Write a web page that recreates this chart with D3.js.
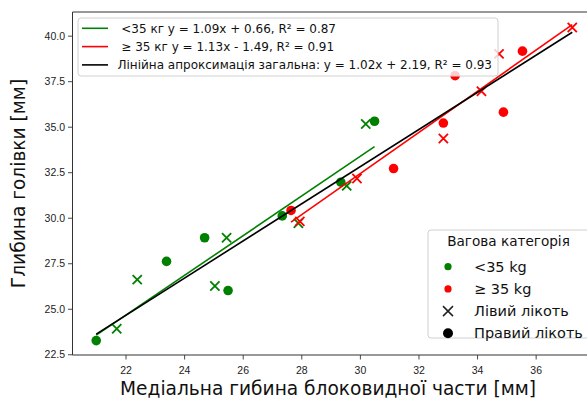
<!DOCTYPE html>
<html>
<head>
<meta charset="utf-8">
<script src="https://cdn.jsdelivr.net/npm/d3@7"></script>
<style>
  body { margin: 0; background: #fff; }
  svg { display: block; font-family: "DejaVu Sans", sans-serif; }
  text { white-space: pre; }
</style>
</head>
<body>
<div id="chart"></div>
<script>
// data
const lightLeftX = [21.7, 22.4, 25.05, 25.45, 27.9, 29.55, 30.2];
const lightLeftY = [23.9, 26.6, 26.25, 28.9, 29.7, 31.75, 35.15];
const lightRightX = [21.0, 23.4, 24.7, 25.5, 27.35, 29.35, 30.5];
const lightRightY = [23.25, 27.6, 28.9, 26.0, 30.1, 31.95, 35.3];
const heavyLeftX = [27.95, 29.9, 32.85, 34.15, 34.75, 37.25];
const heavyLeftY = [29.8, 32.15, 34.35, 36.95, 39.0, 40.45];
const heavyRightX = [27.65, 31.15, 32.85, 33.25, 34.9, 35.55];
const heavyRightY = [30.4, 32.7, 35.2, 37.8, 35.8, 39.15];

const fitLabels = [
  ' <35 кг y = 1.09x + 0.66, R² = 0.87',
  ' ≥ 35 кг y = 1.13x - 1.49, R² = 0.91',
  'Лінійна апроксимація загальна: y = 1.02x + 2.19, R² = 0.93'
];
const fitSlope = [1.09, 1.13, 1.02];
const fitIntercept = [0.66, -1.49, 2.19];
const fitColors = ['green', 'red', 'black'];

const groupLabels = ['<35 kg', '≥ 35 kg'];
const sideLabels = ['Лівий лікоть', 'Правий лікоть'];
const legendTitle = 'Вагова категорія';

const xTicks = [22, 24, 26, 28, 30, 32, 34, 36];
const yTicks = [22.5, 25.0, 27.5, 30.0, 32.5, 35.0, 37.5, 40.0];
const xLabel = 'Медіальна гибина блоковидної части [мм]';
const yLabel = 'Глибина голівки [мм]';

const W = 587, H = 401;
const margin = { top: 12, right: -9, bottom: 46, left: 72.5 };
const innerW = W - margin.left - margin.right;
const innerH = H - margin.top - margin.bottom;

const svg = d3.select('#chart').append('svg')
  .attr('width', W)
  .attr('height', H);

const g = svg.append('g')
  .attr('transform', 'translate(' + margin.left + ',' + margin.top + ')');

const x = d3.scaleLinear().domain([20.19, 38.06]).range([0, innerW]);
const y = d3.scaleLinear().domain([22.46, 41.30]).range([innerH, 0]);

const zip = (xs, ys) => xs.map((v, i) => ({ x: v, y: ys[i] }));
const groups = [
  { pts: zip(lightLeftX, lightLeftY), color: 'green', shape: 'x' },
  { pts: zip(lightRightX, lightRightY), color: 'green', shape: 'o' },
  { pts: zip(heavyLeftX, heavyLeftY), color: 'red', shape: 'x' },
  { pts: zip(heavyRightX, heavyRightY), color: 'red', shape: 'o' }
];

// axes
const xAxis = g.append('g')
  .attr('transform', 'translate(0,' + innerH + ')')
  .call(d3.axisBottom(x).tickValues(xTicks).tickFormat(d3.format('d')).tickSize(4.5).tickSizeOuter(0));
const yAxis = g.append('g')
  .call(d3.axisLeft(y).tickValues(yTicks).tickFormat(d3.format('.1f')).tickSize(4.5).tickSizeOuter(0));
[xAxis, yAxis].forEach(a => {
  a.select('.domain').remove();
  a.selectAll('line').attr('stroke', '#333').attr('stroke-width', 0.9);
  a.selectAll('text').attr('fill', '#222').style('font-size', '10.5px');
});
xAxis.selectAll('text').attr('dy', '1.05em');

// spines
g.append('line').attr('x1', 0).attr('x2', 0).attr('y1', 0).attr('y2', innerH)
  .attr('stroke', '#333').attr('stroke-width', 1);
g.append('line').attr('x1', 0).attr('x2', innerW).attr('y1', innerH).attr('y2', innerH)
  .attr('stroke', '#333').attr('stroke-width', 1);
g.append('line').attr('x1', 0).attr('x2', innerW).attr('y1', 0).attr('y2', 0)
  .attr('stroke', '#333').attr('stroke-width', 1);

// axis titles
svg.append('text')
  .attr('x', 328)
  .attr('y', 395)
  .attr('text-anchor', 'middle')
  .attr('fill', '#111')
  .style('font-size', '18.6px')
  .text(xLabel);
svg.append('text')
  .attr('transform', 'translate(25,' + (margin.top + innerH / 2) + ') rotate(-90)')
  .attr('text-anchor', 'middle')
  .attr('fill', '#111')
  .style('font-size', '18.6px')
  .text(yLabel);

// points
const xPath = s => 'M' + (-s) + ',' + (-s) + 'L' + s + ',' + s + 'M' + (-s) + ',' + s + 'L' + s + ',' + (-s);
groups.forEach(grp => {
  const sel = g.append('g').selectAll('.pt').data(grp.pts).enter();
  if (grp.shape === 'o') {
    sel.append('circle')
      .attr('cx', d => x(d.x))
      .attr('cy', d => y(d.y))
      .attr('r', 4.8)
      .attr('fill', grp.color);
  } else {
    sel.append('path')
      .attr('d', xPath(4.6))
      .attr('transform', d => 'translate(' + x(d.x) + ',' + y(d.y) + ')')
      .attr('stroke', grp.color)
      .attr('stroke-width', 1.8)
      .attr('fill', 'none');
  }
});

// fit lines
const allLight = lightLeftX.concat(lightRightX);
const allHeavy = heavyLeftX.concat(heavyRightX);
const allX = allLight.concat(allHeavy);
const fitRanges = [d3.extent(allLight), d3.extent(allHeavy), d3.extent(allX)];
fitSlope.forEach((m, i) => {
  const [a, b] = fitRanges[i];
  g.append('line')
    .attr('x1', x(a)).attr('y1', y(m * a + fitIntercept[i]))
    .attr('x2', x(b)).attr('y2', y(m * b + fitIntercept[i]))
    .attr('stroke', fitColors[i])
    .attr('stroke-width', 1.6);
});

// upper legend
const leg1 = svg.append('g').attr('transform', 'translate(78,18)');
leg1.append('rect')
  .attr('width', 420).attr('height', 58).attr('rx', 3)
  .attr('fill', 'white').attr('fill-opacity', 0.8)
  .attr('stroke', '#d0d0d0').attr('stroke-width', 1);
fitLabels.forEach((lab, i) => {
  const cy = 10.3 + i * 18.3;
  leg1.append('line')
    .attr('x1', 4).attr('x2', 30).attr('y1', cy).attr('y2', cy)
    .attr('stroke', fitColors[i]).attr('stroke-width', 1.6);
  leg1.append('text')
    .attr('x', 39.5).attr('y', cy).attr('dy', '0.35em')
    .attr('fill', '#111')
    .style('font-size', '12px')
    .text(lab);
});

// lower legend
const leg2 = svg.append('g').attr('transform', 'translate(428,230)');
leg2.append('rect')
  .attr('width', 164).attr('height', 108).attr('rx', 3)
  .attr('fill', 'white').attr('fill-opacity', 0.8)
  .attr('stroke', '#d0d0d0').attr('stroke-width', 1);
leg2.append('text')
  .attr('x', 80.5).attr('y', 11.7).attr('dy', '0.35em')
  .attr('text-anchor', 'middle')
  .attr('fill', '#111')
  .style('font-size', '13.6px')
  .text(legendTitle);
const rowY = [36.7, 58.9, 81.1, 103.3];
groupLabels.forEach((lab, i) => {
  leg2.append('circle').attr('cx', 20).attr('cy', rowY[i]).attr('r', 3.6)
    .attr('fill', i === 0 ? 'green' : 'red');
  leg2.append('text').attr('x', 46).attr('y', rowY[i]).attr('dy', '0.35em')
    .attr('fill', '#111').style('font-size', '14.5px').text(lab);
});
sideLabels.forEach((lab, i) => {
  const cy = rowY[i + 2];
  if (i === 0) {
    leg2.append('path').attr('d', xPath(5))
      .attr('transform', 'translate(20,' + cy + ')')
      .attr('stroke', '#222').attr('stroke-width', 1.5).attr('fill', 'none');
  } else {
    leg2.append('circle').attr('cx', 20).attr('cy', cy).attr('r', 5).attr('fill', 'black');
  }
  leg2.append('text').attr('x', 46).attr('y', cy).attr('dy', '0.35em')
    .attr('fill', '#111').style('font-size', '14.5px').text(lab);
});
</script>
</body>
</html>
